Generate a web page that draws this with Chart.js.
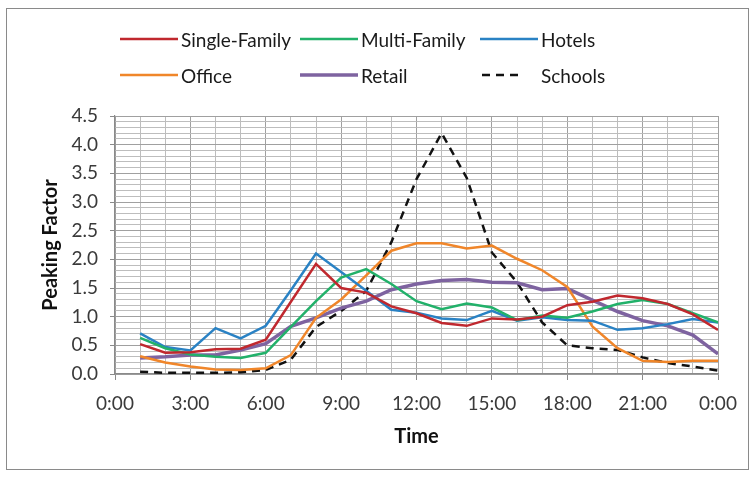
<!DOCTYPE html>
<html>
<head>
<meta charset="utf-8">
<title>Peaking Factor by Time of Day</title>
<script src="https://cdn.jsdelivr.net/npm/chart.js@4.4.1/dist/chart.umd.min.js"></script>
<style>
  html, body { margin: 0; padding: 0; background: #fff; }
  #wrap { position: relative; width: 755px; height: 479px; overflow: hidden; }
  #frame { position: absolute; left: 6px; top: 8px; width: 741px; height: 460px;
           border: 1.5px solid #8a8a8a; pointer-events: none; }
  #legend { position: absolute; left: 0; top: 0; width: 755px; height: 100px;
            font-family: Lato, "Noto Sans", sans-serif; font-size: 19px; color: #1a1a1a; }
  .lg-item { position: absolute; display: flex; align-items: center; white-space: nowrap; }
  .lg-item svg { display: block; margin-right: 3px; }
</style>
</head>
<body>
<div id="wrap">
  <canvas id="chart" width="755" height="479"></canvas>
  <div id="legend"></div>
  <div id="frame"></div>
</div>
<script>
// Hour of day at which each reading is taken (24 = midnight)
const hours = [1, 2, 3, 4, 5, 6, 7, 8, 9, 10, 11, 12,
               13, 14, 15, 16, 17, 18, 19, 20, 21, 22, 23, 24];

// Hourly peaking factors per land use
const singleFamily = [0.52, 0.37, 0.38, 0.43, 0.44, 0.60, 1.26, 1.92, 1.50, 1.42, 1.18, 1.06,
                      0.89, 0.84, 0.97, 0.95, 1.00, 1.20, 1.26, 1.37, 1.32, 1.22, 1.04, 0.77];
const multiFamily  = [0.63, 0.45, 0.34, 0.30, 0.28, 0.37, 0.82, 1.27, 1.68, 1.83, 1.57, 1.27,
                      1.13, 1.23, 1.16, 0.94, 1.02, 0.98, 1.09, 1.22, 1.29, 1.22, 1.06, 0.90];
const hotels       = [0.71, 0.47, 0.41, 0.80, 0.62, 0.84, 1.46, 2.10, 1.78, 1.45, 1.12, 1.07,
                      0.97, 0.94, 1.10, 0.93, 0.99, 0.94, 0.93, 0.77, 0.80, 0.87, 0.96, 0.90];
const office       = [0.31, 0.20, 0.13, 0.08, 0.07, 0.10, 0.33, 0.98, 1.30, 1.72, 2.15, 2.28,
                      2.28, 2.19, 2.24, 2.01, 1.81, 1.52, 0.83, 0.45, 0.23, 0.21, 0.23, 0.23];
const retail       = [0.28, 0.30, 0.33, 0.33, 0.42, 0.53, 0.83, 0.98, 1.15, 1.27, 1.47, 1.57,
                      1.63, 1.65, 1.60, 1.59, 1.47, 1.49, 1.29, 1.09, 0.93, 0.84, 0.68, 0.35];
const schools      = [0.04, 0.02, 0.02, 0.02, 0.03, 0.07, 0.25, 0.82, 1.10, 1.45, 2.30, 3.40,
                      4.20, 3.42, 2.12, 1.60, 0.90, 0.50, 0.45, 0.42, 0.29, 0.19, 0.13, 0.06];

// Axis range and label spacing
const yMin = 0, yMax = 4.5, yMinorStep = 0.1, yLabelStep = 0.5;
const xMin = 0, xMax = 24, xLabelStep = 3;

const FONT = 'Lato, "Noto Sans", sans-serif';

function points(values) {
  return hours.map((h, i) => ({ x: h, y: values[i] }));
}

function series(label, values, color, width, dash) {
  return {
    label: label,
    data: points(values),
    borderColor: color,
    backgroundColor: color,
    borderWidth: width,
    borderDash: dash || [],
    pointRadius: 0,
    pointHoverRadius: 0,
    tension: 0,
    fill: false
  };
}

function isYLabel(v) {
  const r = v / yLabelStep;
  return Math.abs(r - Math.round(r)) < 1e-6;
}
function isXLabel(v) {
  return Math.abs(v % xLabelStep) < 1e-6;
}

// Legend built in HTML from the chart's datasets, laid out in three columns
const htmlLegend = {
  id: 'htmlLegend',
  afterUpdate(chart) {
    const box = document.getElementById('legend');
    box.innerHTML = '';
    chart.data.datasets.forEach((ds, i) => {
      const col = i % 3, row = Math.floor(i / 3);
      const item = document.createElement('div');
      item.className = 'lg-item';
      item.style.left = (120 + col * 180) + 'px';
      item.style.top = (27 + row * 36) + 'px';
      item.style.height = '24px';
      const svgNS = 'http://www.w3.org/2000/svg';
      const svg = document.createElementNS(svgNS, 'svg');
      const dashed = ds.borderDash && ds.borderDash.length;
      svg.setAttribute('width', '58');
      svg.setAttribute('height', '10');
      const line = document.createElementNS(svgNS, 'line');
      line.setAttribute('x1', dashed ? '2' : '0');
      line.setAttribute('x2', dashed ? '44' : '58');
      line.setAttribute('y1', '5');
      line.setAttribute('y2', '5');
      line.setAttribute('stroke', ds.borderColor);
      line.setAttribute('stroke-width', ds.borderWidth);
      if (dashed) line.setAttribute('stroke-dasharray', '8 6');
      svg.appendChild(line);
      const text = document.createElement('span');
      text.textContent = ds.label;
      item.appendChild(svg);
      item.appendChild(text);
      box.appendChild(item);
    });
  }
};

new Chart(document.getElementById('chart'), {
  type: 'line',
  data: {
    datasets: [
      series('Single-Family', singleFamily, '#C0282E', 2.5),
      series('Multi-Family',  multiFamily,  '#22B16A', 2.5),
      series('Hotels',        hotels,       '#2A82C4', 2.5),
      series('Office',        office,       '#F0862A', 2.5),
      series('Retail',        retail,       '#7E63A0', 3.5),
      series('Schools',       schools,      '#111111', 2.5, [8, 6])
    ]
  },
  options: {
    responsive: false,
    animation: false,
    events: [],
    layout: { padding: { left: 10, right: 37, top: 116, bottom: 30 } },
    plugins: {
      legend: { display: false },
      tooltip: { enabled: false }
    },
    scales: {
      x: {
        type: 'linear',
        min: xMin,
        max: xMax,
        afterFit(scale) { scale.height = 75; },
        border: { color: '#8a8a8a', width: 1.2 },
        grid: {
          color: ctx => isXLabel(ctx.tick.value) ? '#a0a0a0' : '#bdbdbd',
          lineWidth: 1,
          tickLength: 6,
          tickColor: ctx => isXLabel(ctx.tick.value) ? '#8a8a8a' : 'rgba(0,0,0,0)'
        },
        ticks: {
          stepSize: 1,
          autoSkip: false,
          maxTicksLimit: 100,
          maxRotation: 0,
          padding: 12,
          color: '#3a3a3a',
          font: { family: FONT, size: 19 },
          callback: v => isXLabel(v) ? (Math.round(v) % 24) + ':00' : ''
        },
        title: {
          display: true,
          text: 'Time',
          color: '#111',
          font: { family: FONT, size: 20, weight: 'bold' },
          padding: { top: 0, bottom: 0 }
        }
      },
      y: {
        type: 'linear',
        min: yMin,
        max: yMax,
        afterFit(scale) { scale.width = 105; },
        border: { color: '#8a8a8a', width: 1.2 },
        grid: {
          color: ctx => isYLabel(ctx.tick.value) ? '#a0a0a0' : '#bdbdbd',
          lineWidth: 1,
          tickLength: 5,
          tickColor: ctx => isYLabel(ctx.tick.value) ? '#8a8a8a' : 'rgba(0,0,0,0)'
        },
        ticks: {
          stepSize: yMinorStep,
          autoSkip: false,
          maxTicksLimit: 100,
          padding: 12,
          color: '#3a3a3a',
          font: { family: FONT, size: 19 },
          callback: v => isYLabel(v) ? v.toFixed(1) : ''
        },
        title: {
          display: true,
          text: 'Peaking Factor',
          color: '#111',
          font: { family: FONT, size: 20, weight: 'bold' },
          padding: { top: 29, bottom: 0 }
        }
      }
    }
  },
  plugins: [htmlLegend]
});
</script>
</body>
</html>
